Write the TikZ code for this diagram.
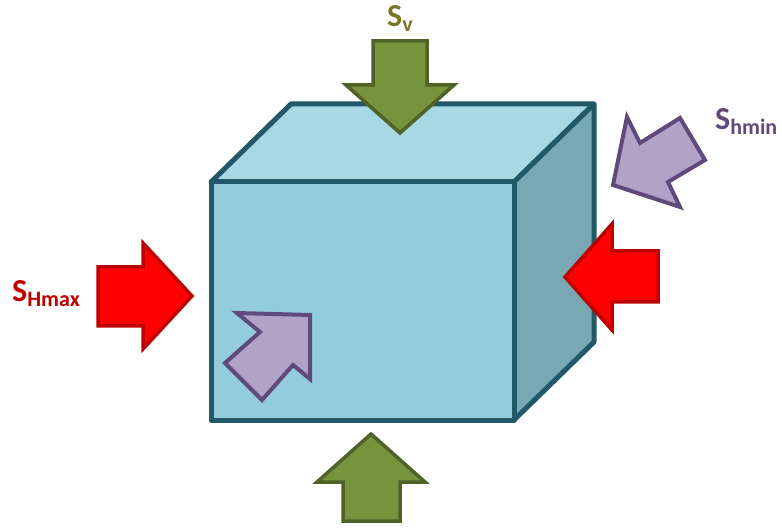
\documentclass[tikz,border=0pt]{standalone}
\usepackage{fontspec}
\setsansfont{Carlito}
\usetikzlibrary{positioning}
\definecolor{cubeedge}{RGB}{33,89,104}
\definecolor{cubefront}{RGB}{147,205,221}
\definecolor{cubetop}{RGB}{168,216,227}
\definecolor{cubeside}{RGB}{119,168,180}
\definecolor{svgreen}{RGB}{119,147,60}
\definecolor{svdark}{RGB}{79,98,40}
\definecolor{shred}{RGB}{255,0,0}
\definecolor{shdark}{RGB}{192,0,0}
\definecolor{shpurple}{RGB}{179,162,199}
\definecolor{shpdark}{RGB}{96,74,123}
\definecolor{svlabel}{RGB}{118,120,40}

\begin{document}
\begin{tikzpicture}[x=1pt, y=-1pt, font=\sffamily\bfseries,
    face/.style={draw=cubeedge, line width=5pt, line join=round},
    vert/.style={fill=svgreen, draw=svdark, line width=3.5pt, line join=miter},
    hmax/.style={fill=shred, draw=shdark, line width=3.5pt, line join=miter},
    hmin/.style={fill=shpurple, draw=shpdark, line width=4pt, line join=miter},
    lbl/.style={anchor=base west, inner sep=0pt}]
    \useasboundingbox (0,0) rectangle (782,529);

    % cube corners
    \coordinate (ftl) at (211,182);
    \coordinate (ftr) at (514,182);
    \coordinate (fbr) at (514,420);
    \coordinate (fbl) at (211,420);
    \coordinate (btl) at (291,104);
    \coordinate (btr) at (594,104);
    \coordinate (bbr) at (594,342);

    \draw[face, fill=cubetop] (ftl) -- (btl) -- (btr) -- (ftr) -- cycle;
    \draw[face, fill=cubeside] (ftr) -- (btr) -- (bbr) -- (fbr) -- cycle;
    \draw[face, fill=cubefront] (ftl) -- (ftr) -- (fbr) -- (fbl) -- cycle;

    % vertical stress
    \draw[vert] (373,41) -- (427,41) -- (427,85) -- (454,85) -- (400,133)
        -- (346,85) -- (373,85) -- cycle;
    \draw[vert] (343,521) -- (343,482) -- (317,482) -- (371,434) -- (425,482)
        -- (400,482) -- (400,521) -- cycle;

    % max horizontal stress
    \draw[hmax] (98,267) -- (143,267) -- (143,243) -- (192,296) -- (143,349)
        -- (143,326) -- (98,326) -- cycle;
    \draw[hmax] (658,251) -- (612,251) -- (612,224) -- (565,277) -- (612,330)
        -- (612,302) -- (658,302) -- cycle;

    % min horizontal stress
    \draw[hmin] (613,185) -- (627,117) -- (640,143) -- (680,118) -- (705,160)
        -- (668,182) -- (680,207) -- cycle;
    \draw[hmin] (310,315) -- (237,313) -- (260,332) -- (225,363) -- (262,400)
        -- (293,365) -- (310,379) -- cycle;

    % labels
    \node[lbl, text=svlabel] (sv) at (387,27)
        {\fontsize{32}{32}\selectfont S\raisebox{-5pt}{\fontsize{22}{22}\selectfont v}};
    \node[lbl, text=shdark] (shmax) at (12,302)
        {\fontsize{32}{32}\selectfont S\raisebox{-5pt}{\fontsize{22}{22}\selectfont Hmax}};
    \node[lbl, text=shpdark] (shmin) at (715,130)
        {\fontsize{32}{32}\selectfont S\raisebox{-5pt}{\fontsize{22}{22}\selectfont hmin}};
\end{tikzpicture}
\end{document}
